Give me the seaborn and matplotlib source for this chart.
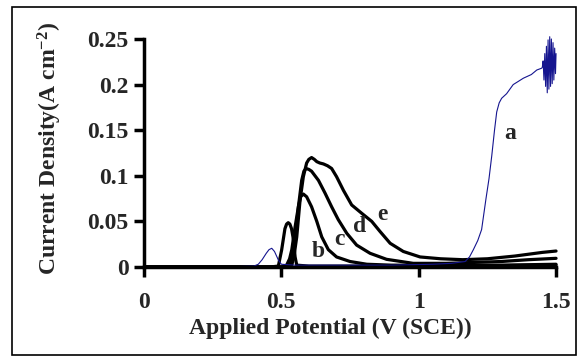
import matplotlib
matplotlib.use('Agg')
import matplotlib.pyplot as plt
import seaborn as sns
from matplotlib.patches import Rectangle

# curve a (blue): small bump near 0.47 V, then rise above 1.2 V with noisy end
a_x = [0.00, 0.30, 0.40, 0.416, 0.43, 0.445, 0.455, 0.465, 0.475, 0.489, 0.50, 0.55,
       0.70, 0.90, 1.05, 1.12, 1.169, 1.185, 1.199, 1.215, 1.229, 1.245, 1.256, 1.266,
       1.276, 1.284, 1.293, 1.302, 1.32, 1.344, 1.36, 1.381, 1.41, 1.43, 1.448,
       1.450, 1.453, 1.456, 1.459, 1.462, 1.465, 1.468, 1.471, 1.474, 1.477, 1.480,
       1.483, 1.486, 1.489, 1.492, 1.495, 1.498, 1.500]
a_y = [0.000, 0.000, 0.001, 0.003, 0.008, 0.015, 0.019, 0.0205, 0.017, 0.0077, 0.003, 0.002,
       0.002, 0.002, 0.003, 0.004, 0.006, 0.011, 0.019, 0.029, 0.041, 0.075, 0.097, 0.122,
       0.150, 0.170, 0.180, 0.185, 0.190, 0.200, 0.203, 0.207, 0.211, 0.216, 0.218,
       0.219, 0.226, 0.205, 0.234, 0.198, 0.242, 0.191, 0.249, 0.195, 0.2525, 0.198,
       0.250, 0.201, 0.246, 0.205, 0.240, 0.212, 0.234]

# curve b
b_x = [0.00, 0.46, 0.489, 0.501, 0.513, 0.519, 0.525, 0.531, 0.537, 0.544, 0.550, 0.556,
       0.60, 1.00, 1.50]
b_y = [0.000, 0.000, 0.001, 0.0186, 0.042, 0.047, 0.0486, 0.047, 0.042, 0.030, 0.011, 0.002,
       0.001, 0.001, 0.002]

# curve c
c_x = [0.00, 0.50, 0.519, 0.530, 0.538, 0.550, 0.562, 0.570, 0.580, 0.592, 0.610, 0.629,
       0.647, 0.671, 0.701, 0.750, 0.811, 0.90, 1.10, 1.30, 1.50]
c_y = [0.000, 0.000, 0.002, 0.009, 0.019, 0.044, 0.066, 0.077, 0.080, 0.077, 0.066, 0.050,
       0.033, 0.019, 0.011, 0.006, 0.003, 0.002, 0.002, 0.002, 0.003]

# curve d
d_x = [0.00, 0.51, 0.531, 0.540, 0.550, 0.562, 0.574, 0.582, 0.590, 0.600, 0.610, 0.635,
       0.659, 0.683, 0.707, 0.738, 0.774, 0.823, 0.883, 0.98, 1.10, 1.20, 1.30, 1.40, 1.50]
d_y = [0.000, 0.000, 0.002, 0.012, 0.030, 0.066, 0.095, 0.105, 0.108, 0.107, 0.105, 0.095,
       0.081, 0.066, 0.052, 0.037, 0.024, 0.015, 0.0084, 0.004, 0.004, 0.005, 0.006, 0.008, 0.0095]

# curve e
e_x = [0.00, 0.52, 0.538, 0.547, 0.556, 0.568, 0.580, 0.592, 0.600, 0.610, 0.620, 0.629,
       0.640, 0.653, 0.668, 0.683, 0.701, 0.726, 0.756, 0.792, 0.829, 0.859, 0.896, 0.944,
       1.005, 1.08, 1.16, 1.25, 1.35, 1.45, 1.50]
e_y = [0.000, 0.000, 0.002, 0.014, 0.033, 0.073, 0.099, 0.114, 0.118, 0.120, 0.118, 0.1155,
       0.114, 0.113, 0.111, 0.108, 0.099, 0.084, 0.068, 0.059, 0.050, 0.039, 0.026, 0.017,
       0.011, 0.009, 0.008, 0.009, 0.012, 0.016, 0.0175]

# curve letters and where they sit
labels = ['a', 'b', 'c', 'd', 'e']
label_x = [1.332, 0.635, 0.711, 0.786, 0.868]
label_y = [0.140, 0.0113, 0.024, 0.0387, 0.0515]

x_ticks = [0, 0.5, 1, 1.5]
x_tick_labels = ['0', '0.5', '1', '1.5']
y_ticks = [0, 0.05, 0.1, 0.15, 0.2, 0.25]
y_tick_labels = ['0', '0.05', '0.1', '0.15', '0.2', '0.25']

sns.set_style('white')
plt.rcParams['font.family'] = ['Liberation Serif', 'DejaVu Serif']
plt.rcParams['font.weight'] = 'bold'
plt.rcParams['mathtext.fontset'] = 'custom'
plt.rcParams['mathtext.rm'] = 'Liberation Serif:bold'
plt.rcParams['mathtext.it'] = 'Liberation Serif:bold:italic'
plt.rcParams['mathtext.bf'] = 'Liberation Serif:bold'

fig = plt.figure(figsize=(5.85, 3.63), dpi=100)
ax = fig.add_axes([0.2462, 0.2645, 0.7043, 0.6281])

for xs, ys in [(b_x, b_y), (c_x, c_y), (d_x, d_y), (e_x, e_y)]:
    sns.lineplot(x=xs, y=ys, color='black', lw=2.3, sort=False, estimator=None,
                 ax=ax, clip_on=False)
sns.lineplot(x=a_x, y=a_y, color='#15158f', lw=0.8, sort=False, estimator=None,
             ax=ax, clip_on=False)

for lab, lx, ly in zip(labels, label_x, label_y):
    ax.text(lx, ly, lab, ha='center', va='baseline', fontsize=17, fontweight='bold')

ax.set_xlim(0, 1.5)
ax.set_ylim(0, 0.25)
ax.set_xticks(x_ticks)
ax.set_xticklabels(x_tick_labels)
ax.set_yticks(y_ticks)
ax.set_yticklabels(y_tick_labels)
ax.tick_params(axis='both', direction='out', length=7, width=2.5, labelsize=17,
               bottom=True, left=True, color='black')
ax.tick_params(axis='x', pad=11)
ax.tick_params(axis='y', pad=4)

ax.spines[['top', 'right']].set_visible(False)
for s in ['left', 'bottom']:
    ax.spines[s].set_linewidth(2.5)
    ax.spines[s].set_color('black')

ax.set_xlabel('Applied Potential (V (SCE))', fontsize=17, fontweight='bold')
ax.set_ylabel('Current Density(A cm$^{-2}$)', fontsize=17, fontweight='bold')
ax.xaxis.set_label_coords(0.451, -0.225)
ax.yaxis.set_label_coords(-0.195, 0.52)

fig.add_artist(Rectangle((0.0205, 0.022), 0.964, 0.9587, transform=fig.transFigure,
                         fill=False, lw=1.2, ec='black'))

plt.savefig('out.png', dpi=100)
